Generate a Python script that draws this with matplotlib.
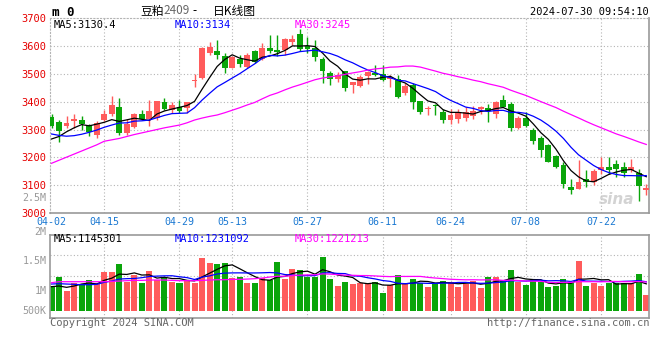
import matplotlib
matplotlib.use("Agg")
import matplotlib.pyplot as plt
import numpy as np
import pandas as pd

# --- data (80 trading days, 2024-04-02 .. 2024-07-30) ---
opens = [3344, 3326, 3314, 3330, 3333, 3317, 3280, 3333, 3354, 3381,
         3286, 3308, 3354, 3336, 3342, 3399, 3370, 3381, 3378, 3472,
         3483, 3573, 3582, 3564, 3521, 3551, 3525, 3581, 3551, 3591,
         3585, 3585, 3612, 3643, 3600, 3592, 3552, 3502, 3481, 3511,
         3458, 3455, 3490, 3502, 3500, 3480, 3481, 3429, 3458, 3402,
         3373, 3387, 3363, 3333, 3337, 3340, 3349, 3375, 3376, 3355,
         3405, 3390, 3307, 3340, 3300, 3270, 3243, 3205, 3172, 3093,
         3086, 3124, 3112, 3155, 3164, 3177, 3165, 3154, 3145, 3083]
closes = [3314, 3294, 3324, 3338, 3318, 3292, 3324, 3357, 3386, 3286,
          3320, 3354, 3336, 3366, 3401, 3375, 3388, 3368, 3397, 3476,
          3593, 3596, 3567, 3521, 3561, 3533, 3567, 3543, 3591, 3581,
          3576, 3624, 3625, 3588, 3588, 3560, 3508, 3481, 3496, 3449,
          3469, 3488, 3505, 3494, 3479, 3487, 3415, 3457, 3399, 3363,
          3377, 3383, 3333, 3351, 3363, 3363, 3367, 3379, 3367, 3399,
          3382, 3305, 3340, 3313, 3259, 3226, 3184, 3167, 3104, 3084,
          3113, 3112, 3151, 3165, 3154, 3157, 3144, 3165, 3098, 3091]
highs = [3355, 3333, 3348, 3356, 3348, 3321, 3330, 3371, 3421, 3413,
         3336, 3360, 3369, 3405, 3403, 3412, 3400, 3404, 3400, 3497,
         3595, 3614, 3620, 3575, 3564, 3567, 3573, 3585, 3608, 3637,
         3637, 3626, 3637, 3661, 3633, 3621, 3560, 3508, 3505, 3511,
         3470, 3496, 3508, 3532, 3532, 3496, 3496, 3467, 3465, 3402,
         3384, 3393, 3373, 3375, 3375, 3382, 3385, 3385, 3390, 3402,
         3423, 3399, 3349, 3361, 3307, 3277, 3248, 3208, 3182, 3123,
         3190, 3154, 3158, 3200, 3200, 3192, 3184, 3193, 3157, 3106]
lows = [3304, 3255, 3305, 3306, 3298, 3276, 3270, 3330, 3348, 3282,
        3282, 3306, 3333, 3314, 3333, 3370, 3360, 3358, 3360, 3453,
        3480, 3567, 3551, 3501, 3519, 3525, 3522, 3539, 3548, 3573,
        3564, 3568, 3604, 3582, 3574, 3546, 3467, 3461, 3469, 3437,
        3431, 3453, 3463, 3490, 3473, 3453, 3413, 3425, 3373, 3355,
        3351, 3352, 3325, 3319, 3323, 3329, 3337, 3355, 3327, 3340,
        3379, 3295, 3301, 3310, 3248, 3200, 3182, 3163, 3090, 3068,
        3086, 3094, 3101, 3140, 3140, 3130, 3130, 3148, 3043, 3066]
# volume in millions of lots
volumes = [1.083, 1.228, 1.000, 1.133, 1.111, 1.178, 1.133, 1.311, 1.311, 1.450,
           1.150, 1.261, 1.133, 1.328, 1.178, 1.222, 1.150, 1.133, 1.178, 1.133,
           1.550, 1.467, 1.450, 1.467, 1.217, 1.228, 1.133, 1.133, 1.206, 1.178,
           1.483, 1.194, 1.367, 1.350, 1.233, 1.233, 1.567, 1.194, 1.078, 1.150,
           1.111, 1.133, 1.111, 1.150, 0.967, 1.094, 1.261, 1.111, 1.194, 1.133,
           1.067, 1.133, 1.161, 1.150, 1.067, 1.111, 1.161, 1.050, 1.228, 1.228,
           1.161, 1.344, 1.150, 1.094, 1.178, 1.150, 1.061, 1.083, 1.194, 1.122,
           1.494, 1.078, 1.133, 1.078, 1.133, 1.122, 1.122, 1.122, 1.278, 0.928]

# moving-average values at the start of the window (earlier history not shown)
ma5_head = [3266, 3275, 3292, 3306]
ma10_head = [3284, 3279, 3276, 3278, 3283, 3290, 3298, 3308, 3316]
ma30_head = [3179, 3190, 3201, 3212, 3223, 3234, 3245, 3258, 3263, 3268,
             3275, 3282, 3288, 3294, 3300, 3306, 3311, 3316, 3324, 3334,
             3341, 3347, 3352, 3360, 3369, 3378, 3388, 3397, 3410]
vma5_head = [1.067, 1.078, 1.056, 1.078]
vma10_head = [1.111, 1.117, 1.111, 1.106, 1.100, 1.100, 1.106, 1.139, 1.161]
vma30_head = [1.133, 1.150, 1.150, 1.150, 1.150, 1.150, 1.150, 1.150, 1.156, 1.161,
              1.167, 1.172, 1.172, 1.178, 1.178, 1.178, 1.172, 1.167, 1.167, 1.167,
              1.172, 1.178, 1.183, 1.183, 1.189, 1.189, 1.194, 1.200, 1.211]

tick_labels = ['04-02', '04-15', '04-29', '05-13', '05-27', '06-11', '06-24', '07-08', '07-22']
tick_index = [0, 7, 17, 24, 34, 44, 53, 63, 73]
price_ticks = [3000, 3100, 3200, 3300, 3400, 3500, 3600, 3700]


def moving(values, n, head):
    s = pd.Series(values, dtype=float).rolling(n).mean().to_numpy()
    s[:len(head)] = head
    return s


RED = '#ff5b5b'
GREEN = '#0aa50a'
GRID = '#b4b4b4'
MONO = 'DejaVu Sans Mono'
W, H = 660, 360

fig = plt.figure(figsize=(6.6, 3.6), dpi=100, facecolor='white')


def px_axes(left, top, right, bottom):
    return fig.add_axes([left / W, 1 - bottom / H, (right - left) / W, (bottom - top) / H])


def ptext(x, y, s, **kw):
    kw.setdefault('va', 'center')
    kw.setdefault('fontfamily', MONO)
    kw.setdefault('fontsize', 7.5)
    fig.text(x / W, 1 - y / H, s, **kw)


x = np.arange(len(closes))
o = np.array(opens, float)
c = np.array(closes, float)
up = c >= o
colors = np.where(up, RED, GREEN)

# ---------------- price panel ----------------
ax = px_axes(50, 17.8, 649.3, 213.3)
ax.set_xlim(-0.2, 79.4)
ax.set_ylim(3000, 3700)
for p in price_ticks[1:-1]:
    ax.axhline(p, color=GRID, ls=(0, (1, 2)), lw=0.8, zorder=0)
for t in tick_index[1:]:
    ax.axvline(t, color=GRID, ls=(0, (1, 2)), lw=0.8, zorder=0)

ax.vlines(x, lows, highs, colors=colors, lw=1.0, zorder=2)
body_bottom = np.minimum(o, c)
body_height = np.maximum(np.abs(c - o), 2.5)
ax.bar(x, body_height, bottom=body_bottom, width=0.78, color=colors, zorder=3, linewidth=0)

ax.plot(x, moving(closes, 5, ma5_head), color='black', lw=0.9, zorder=4)
ax.plot(x, moving(closes, 10, ma10_head), color='#0000ff', lw=0.9, zorder=4)
ax.plot(x, moving(closes, 30, ma30_head), color='#ff00ff', lw=0.9, zorder=4)

ax.set_yticks(price_ticks)
ax.set_yticklabels([str(p) for p in price_ticks], color='#e60000', fontfamily=MONO, fontsize=7.5)
ax.set_xticks(tick_index)
ax.set_xticklabels(tick_labels, color='#1a78d2', fontfamily=MONO, fontsize=7.2)
ax.tick_params(length=0, pad=3)
ax.tick_params(axis='x', pad=2.5)
for side in ['left', 'top']:
    ax.spines[side].set_linestyle((0, (1, 2)))
    ax.spines[side].set_color(GRID)
    ax.spines[side].set_linewidth(0.8)
for side in ['right', 'bottom']:
    ax.spines[side].set_color('#999999')
    ax.spines[side].set_linewidth(1.2)

# sina watermark
ax.text(0.975, 0.07, 'sina', transform=ax.transAxes, ha='right', va='center', fontsize=11,
        fontstyle='italic', fontweight='bold', color='#c9c9c9', alpha=0.8, zorder=1)

# ---------------- volume panel ----------------
vax = px_axes(50, 234.7, 649.3, 317.7)
vax.set_xlim(-0.2, 79.4)
vax.set_ylim(0.55, 1.9333)
vol_base = 0.667
for f in [0.25, 0.5, 0.75]:
    vax.plot([0, 1], [f, f], transform=vax.transAxes, color=GRID, ls=(0, (1, 2)), lw=0.8, zorder=0)
for t in tick_index[1:]:
    vax.axvline(t, color=GRID, ls=(0, (1, 2)), lw=0.8, zorder=0)
vol = np.array(volumes)
vax.bar(x, vol - vol_base, bottom=vol_base, width=0.8, color=colors, linewidth=0, zorder=2)
vax.plot(x, moving(volumes, 5, vma5_head), color='black', lw=0.9, zorder=3)
vax.plot(x, moving(volumes, 10, vma10_head), color='#0000ff', lw=0.9, zorder=3)
vax.plot(x, moving(volumes, 30, vma30_head), color='#ff00ff', lw=0.9, zorder=3)
vax.set_xticks([])
vax.set_yticks([])
for side in vax.spines:
    vax.spines[side].set_color('#999999')
    vax.spines[side].set_linewidth(1.2)

# ---------------- texts ----------------
ptext(52, 12, 'm 0', fontweight='bold', fontsize=9, color='black')
ptext(140, 11, '豆粕', fontfamily='Noto Sans CJK SC', fontsize=8.5, color='black')
ptext(163, 11, '2409', fontfamily='Noto Sans CJK SC', fontsize=8.5, color='#666666')
ptext(192, 11, '-', fontfamily='Noto Sans CJK SC', fontsize=8.5, color='black')
ptext(213, 11, '日K线图', fontfamily='Noto Sans CJK SC', fontsize=8.5, color='black')
ptext(649, 12, '2024-07-30 09:54:10', ha='right', color='black')

ptext(54, 24.5, 'MA5:3130.4', color='black')
ptext(175, 24.5, 'MA10:3134', color='#0000ff')
ptext(295, 24.5, 'MA30:3245', color='#ff00ff')

ptext(54, 238.5, 'MA5:1145301', color='black')
ptext(175, 238.5, 'MA10:1231092', color='#0000ff')
ptext(295, 238.5, 'MA30:1221213', color='#ff00ff')

for lab, yy in [('2.5M', 197.7), ('2M', 231.5), ('1.5M', 260.7), ('1M', 290.7), ('500K', 310.7)]:
    ptext(46.5, yy, lab, ha='right', color='#999999', fontsize=7.2)

ptext(50, 323.5, 'Copyright 2024 SINA.COM', color='#666666')
ptext(649, 323.5, 'http://finance.sina.com.cn', ha='right', color='#666666')

fig.savefig('out.png', dpi=100, facecolor='white')
